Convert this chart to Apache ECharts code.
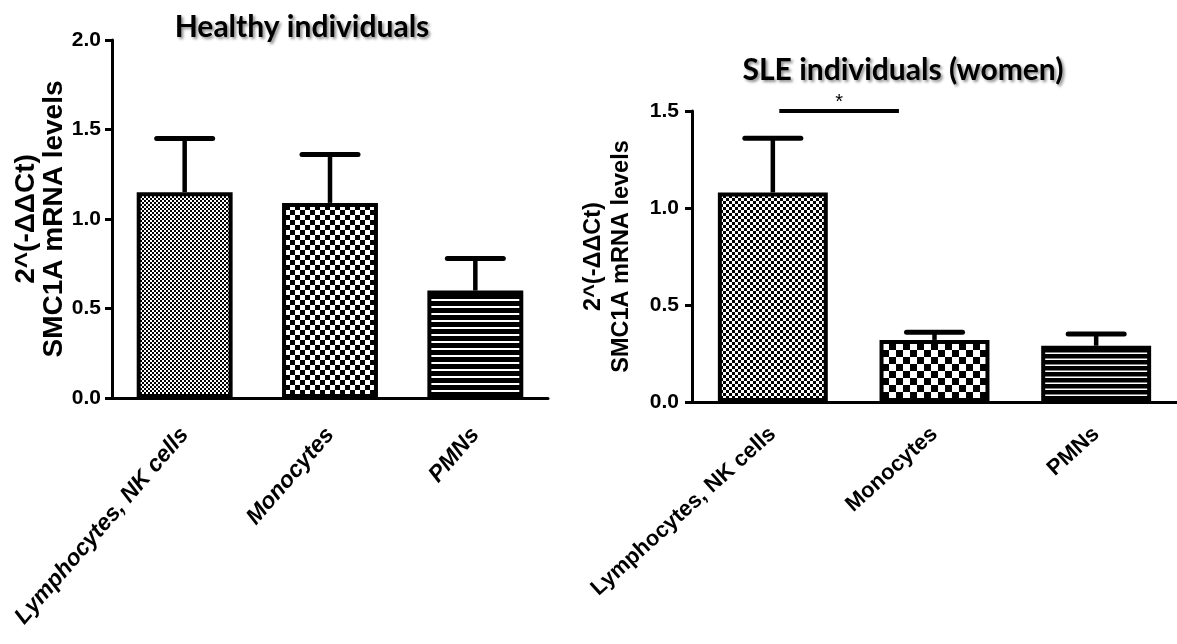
<!DOCTYPE html>
<html><head><meta charset="utf-8">
<script src="https://cdn.jsdelivr.net/npm/echarts@6/dist/echarts.min.js"></script>
<style>html,body{margin:0;padding:0;background:#fff}#c{width:1177px;height:644px}</style>
</head><body><div id="c"></div>
<script>
// ---- data ----
const categories = ['Lymphocytes, NK cells', 'Monocytes', 'PMNs'];
const healthyMean = [1.15, 1.09, 0.60];
const healthyUpper = [1.45, 1.36, 0.78];
const sleMean = [1.08, 0.32, 0.29];
const sleUpper = [1.36, 0.36, 0.35];
const healthyAxis = { min: 0, max: 2.0, interval: 0.5 };
const sleAxis = { min: 0, max: 1.5, interval: 0.5 };
const sigPair = [0, 1];
const sigLevel = 1.5;
const sigLabel = '*';
const titles = ['Healthy individuals', 'SLE individuals (women)'];
const yName = '2^(-ΔΔCt)\nSMC1A mRNA levels';

// ---- patterns (style only) ----
function checker(cell) {
  const c = document.createElement('canvas');
  c.width = cell * 2; c.height = cell * 2;
  const g = c.getContext('2d');
  g.fillStyle = '#fff'; g.fillRect(0, 0, c.width, c.height);
  g.fillStyle = '#000';
  g.fillRect(0, 0, cell, cell); g.fillRect(cell, cell, cell, cell);
  return { image: c, repeat: 'repeat' };
}
function stripes(period, white) {
  const c = document.createElement('canvas');
  c.width = 4; c.height = period;
  const g = c.getContext('2d');
  g.fillStyle = '#000'; g.fillRect(0, 0, 4, period);
  g.fillStyle = '#fff'; g.fillRect(0, period - white, 4, white);
  return { image: c, repeat: 'repeat' };
}
const leftFills = [checker(2), checker(5), stripes(7, 2)];
const rightFills = [checker(3), checker(7), stripes(6, 1.5)];

const FONT = "'Liberation Sans', Arial, sans-serif";
const black = '#000';

function barData(vals, fills) {
  return vals.map((v, i) => ({ value: v, itemStyle: { color: fills[i], borderColor: black, borderWidth: 4 } }));
}
function errSeries(idx, upper, mean) {
  return {
    type: 'custom', xAxisIndex: idx, yAxisIndex: idx, z: 1,
    encode: { x: 0, y: [1, 2] },
    data: categories.map((c, i) => [i, upper[i], mean[i]]),
    renderItem: (p, api) => {
      const top = api.coord([api.value(0), api.value(1)]);
      const base = api.coord([api.value(0), api.value(2)]);
      const hw = 28;
      return { type: 'group', children: [
        { type: 'line', shape: { x1: top[0], y1: base[1], x2: top[0], y2: top[1] }, style: { stroke: black, lineWidth: 4.5 } },
        { type: 'line', shape: { x1: top[0] - hw, y1: top[1], x2: top[0] + hw, y2: top[1] }, style: { stroke: black, lineWidth: 5, lineCap: 'round' } }
      ]};
    }
  };
}
function xAxis(idx, italic, margin, rot, fs) {
  return {
    type: 'category', gridIndex: idx, data: categories,
    axisLine: { lineStyle: { color: black, width: 3 } },
    axisTick: { alignWithLabel: true, length: 9, lineStyle: { color: black, width: 3 } },
    axisLabel: { rotate: rot, margin: margin, color: black, fontFamily: FONT, fontWeight: 'bold', fontStyle: italic ? 'italic' : 'normal', fontSize: fs, interval: 0 }
  };
}
function yAxis(idx, ax, fs, margin, nameSize, nameGap, lh) {
  return {
    type: 'value', gridIndex: idx, min: ax.min, max: ax.max, interval: ax.interval,
    name: yName, nameLocation: 'middle', nameRotate: 90, nameGap: nameGap,
    nameTextStyle: { color: black, fontFamily: FONT, fontWeight: 'bold', fontSize: nameSize, lineHeight: lh, align: 'center' },
    axisLine: { show: true, lineStyle: { color: black, width: 3 } },
    axisTick: { show: true, length: 7, lineStyle: { color: black, width: 3 } },
    splitLine: { show: false },
    axisLabel: { color: black, fontFamily: FONT, fontWeight: 'bold', fontSize: fs, margin: margin, formatter: v => v.toFixed(1) }
  };
}

const chart = echarts.init(document.getElementById('c'), null, { renderer: 'canvas' });
const titleStyle = { fill: '#000', fontFamily: "Lato, 'Open Sans', sans-serif", fontWeight: 'bold', fontSize: 30,
  textAlign: 'center', textVerticalAlign: 'middle', textShadowColor: 'rgba(0,0,0,0.45)', textShadowBlur: 3, textShadowOffsetX: 2, textShadowOffsetY: 2 };
chart.setOption({
  animation: false,
  backgroundColor: '#fff',
  graphic: [
    { type: 'text', x: 302, y: 27, style: Object.assign({ text: titles[0] }, titleStyle) },
    { type: 'text', x: 903, y: 70, style: Object.assign({ text: titles[1] }, titleStyle) }
  ],
  grid: [
    { left: 112, right: 629, top: 40, bottom: 246 },
    { left: 692, right: 0, top: 111, bottom: 242 }
  ],
  xAxis: [xAxis(0, true, 33, 49, 23), xAxis(1, false, 29, 42, 22)],
  yAxis: [yAxis(0, healthyAxis, 21, 11, 28, 43, 28), yAxis(1, sleAxis, 21, 13, 23.5, 56, 28)],
  series: [
    { type: 'bar', xAxisIndex: 0, yAxisIndex: 0, barWidth: '66%', z: 2, data: barData(healthyMean, leftFills) },
    errSeries(0, healthyUpper, healthyMean),
    { type: 'bar', xAxisIndex: 1, yAxisIndex: 1, barWidth: '68%', z: 2, data: barData(sleMean, rightFills) },
    errSeries(1, sleUpper, sleMean),
    {
      type: 'custom', xAxisIndex: 1, yAxisIndex: 1, z: 3,
      data: [[sigPair[0], sigPair[1], sigLevel]],
      renderItem: (p, api) => {
        const a = api.coord([api.value(0), api.value(2)]);
        const b = api.coord([api.value(1), api.value(2)]);
        const band = api.size([1, 0])[0];
        const x1 = a[0] + band * 0.04, x2 = b[0] - band * 0.22;
        return { type: 'group', children: [
          { type: 'line', shape: { x1: x1, y1: a[1], x2: x2, y2: a[1] }, style: { stroke: black, lineWidth: 4 } },
          { type: 'text', x: (x1 + x2) / 2, y: a[1] - 9, style: { text: sigLabel, fill: black, fontFamily: FONT, fontSize: 20, textAlign: 'center', textVerticalAlign: 'middle' } }
        ]};
      }
    }
  ]
});
</script></body></html>
